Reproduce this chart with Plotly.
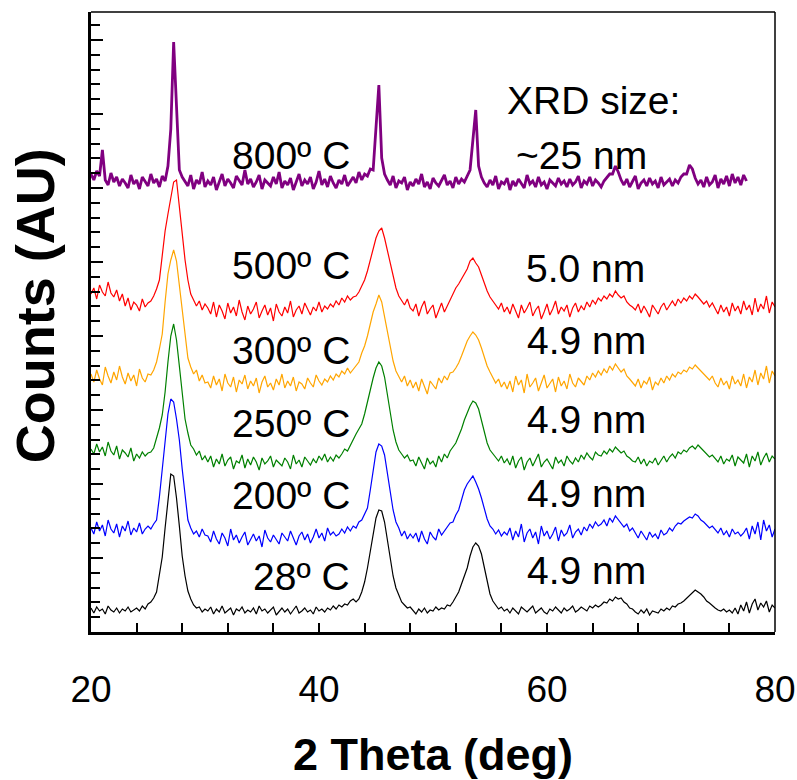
import numpy as np
import plotly.graph_objects as go

# ---------------- data (counts in arbitrary units, stacked offsets included) ----------------
# instrument sampling grid: 20.00 ... 80.00 deg in 0.25 deg steps
two_theta = np.round(np.arange(20.0, 80.0001, 0.25), 2)
two_theta_800 = two_theta[:231]          # 800 C scan stops at 77.5 deg

counts_28C = (
    [24, 19, 25, 21, 23, 18, 26, 22, 20, 24, 19, 23, 21, 25, 20, 22, 24, 21, 26, 23, 28]
    + [30, 34, 40, 58, 75, 104, 131, 158, 156, 134, 106, 76, 56, 41, 33, 27, 24, 25, 20, 23]
    + [21, 25, 18, 23, 20, 26, 19, 22, 24, 17, 23, 21, 25, 19, 22, 20, 24, 18, 26, 21,
       23, 19, 22, 25, 17, 21, 24, 20, 23, 18, 22, 26, 19, 21, 24, 20, 22, 18, 25, 21,
       23, 20, 24, 22, 26, 23, 27, 25, 28, 27, 31, 33]
    + [30, 33, 40, 50, 64, 80, 98, 114, 122, 121, 110, 92, 74, 56, 44, 36, 30, 27, 24, 25]
    + [21, 18, 23, 20, 24, 19, 22, 21, 25, 22, 24, 23, 27, 26]
    + [30, 35, 40, 48, 56, 64, 76, 85, 89, 86, 78, 64, 50, 38, 31, 27, 23, 25, 21]
    + [23, 19, 24, 21, 18, 25, 22, 20, 23, 26, 19, 22, 24, 20, 18, 23, 21, 25, 22, 19,
       24, 21, 23, 26, 20, 22, 25, 23, 21, 26, 24, 27, 25]
    + [27, 30, 29, 33, 31, 35, 33, 34, 30, 28, 24, 23]
    + [20, 18, 22, 19, 23, 17, 21, 20, 19, 23, 21, 24, 22, 26, 25, 28]
    + [29, 31, 34, 37, 39, 42, 40, 38, 35, 31, 29, 26]
    + [24, 22, 21, 23, 20, 22, 19, 24, 18, 27, 21, 30, 19, 28, 33, 22, 29, 25, 31, 20, 27, 24]
)

counts_200C = (
    [104, 98, 110, 101, 107, 96, 112, 103, 99, 108, 95, 106, 101, 111, 97, 104, 100, 109, 98, 103, 106]
    + [103, 108, 112, 135, 163, 195, 218, 233, 230, 213, 192, 163, 134, 112, 104, 98, 101, 95, 103, 97]
    + [96, 90, 101, 93, 88, 99, 94, 86, 103, 92, 97, 89, 95, 100, 87, 93, 98, 91, 96, 85,
       102, 94, 90, 97, 92, 88, 99, 95, 91, 101, 93, 87, 96, 100, 92, 98, 89, 95, 103, 94,
       99, 91, 104, 97, 100, 96, 98, 103, 99, 105, 101, 106]
    + [104, 110, 112, 118, 124, 142, 162, 180, 188, 186, 177, 160, 141, 122, 110, 104, 96, 101, 93, 98]
    + [94, 99, 90, 101, 93, 88, 100, 95, 92, 103, 97, 101, 105, 109]
    + [110, 117, 122, 133, 142, 148, 152, 156, 150, 143, 134, 122, 113, 106, 103, 98, 102, 96, 100]
    + [97, 104, 92, 101, 95, 108, 90, 99, 103, 94, 100, 88, 106, 96, 101, 93, 98, 105, 91, 102,
       96, 99, 107, 94, 100, 103, 97, 105, 101, 108, 104, 110, 106]
    + [108, 112, 106, 114, 110, 116, 112, 109, 105, 108, 101, 104]
    + [99, 94, 101, 96, 92, 100, 95, 98, 93, 102, 97, 99, 104, 101, 106, 109]
    + [108, 111, 113, 115, 114, 118, 116, 112, 110, 107, 104, 106]
    + [102, 99, 104, 97, 101, 95, 103, 98, 100, 96, 99, 104, 93, 106, 98, 110, 92, 112, 101, 107, 95, 103]
)

counts_250C = (
    [183, 178, 188, 180, 185, 176, 190, 181, 177, 186, 173, 182, 179, 175, 184, 171, 178, 174, 180, 176, 179]
    + [180, 184, 193, 204, 217, 240, 270, 296, 308, 292, 266, 238, 213, 199, 187, 183, 177, 181, 172, 176]
    + [170, 176, 165, 173, 168, 178, 166, 172, 175, 163, 171, 169, 177, 164, 173, 167, 175, 170, 162, 174,
       168, 171, 176, 165, 172, 169, 166, 174, 170, 163, 177, 168, 172, 165, 175, 171, 167, 173, 169, 176,
       172, 178, 170, 175, 171, 177, 174, 178, 183, 181, 187, 192]
    + [198, 203, 208, 218, 229, 242, 254, 264, 270, 266, 255, 237, 219, 202, 190, 182, 178, 174, 177, 171]
    + [172, 166, 175, 169, 163, 174, 168, 171, 165, 176, 170, 178, 174, 181]
    + [185, 189, 196, 203, 212, 220, 226, 231, 229, 223, 212, 199, 189, 182, 178, 175, 171, 176, 169]
    + [173, 167, 176, 164, 171, 175, 162, 170, 174, 166, 172, 178, 165, 170, 173, 168, 163, 175, 169, 172,
       166, 176, 171, 168, 174, 170, 177, 173, 179, 175, 172, 180, 177]
    + [176, 181, 178, 183, 180, 185, 182, 179, 181, 176, 174, 171]
    + [170, 175, 168, 173, 166, 171, 169, 174, 167, 172, 176, 170, 175, 178, 174, 180]
    + [178, 182, 180, 184, 186, 183, 187, 184, 181, 178, 175, 177]
    + [174, 170, 176, 168, 173, 171, 177, 166, 175, 172, 169, 178, 165, 176, 171, 180, 167, 174, 179, 170, 176, 173]
)

counts_300C = (
    [258, 250, 262, 253, 247, 265, 256, 249, 260, 252, 266, 255, 248, 259, 251, 257, 246, 263, 254, 250, 258]
    + [257, 262, 270, 283, 298, 330, 358, 372, 382, 371, 346, 318, 293, 274, 265, 258, 262, 251, 257, 249]
    + [250, 244, 256, 247, 253, 241, 258, 249, 245, 255, 240, 252, 248, 257, 243, 251, 246, 254, 239, 250,
       256, 245, 249, 242, 253, 247, 258, 244, 251, 246, 255, 241, 250, 248, 243, 254, 249, 245, 257, 251,
       247, 253, 250, 256, 252, 258, 255, 261, 258, 264, 259, 263]
    + [266, 270, 279, 286, 296, 308, 320, 328, 337, 330, 316, 301, 285, 271, 261, 256, 250, 256, 246, 252]
    + [244, 250, 241, 253, 246, 238, 251, 247, 243, 254, 249, 256, 252, 259]
    + [260, 264, 269, 276, 284, 291, 296, 300, 297, 292, 284, 274, 266, 260, 254, 249, 253, 245, 250]
    + [243, 251, 240, 256, 247, 252, 239, 258, 245, 249, 254, 241, 250, 257, 244, 248, 253, 240, 255, 246,
       251, 243, 258, 249, 245, 254, 250, 247, 256, 252, 259, 255, 261]
    + [257, 263, 259, 266, 262, 268, 264, 260, 263, 256, 253, 250]
    + [246, 253, 244, 251, 248, 255, 242, 250, 247, 254, 249, 256, 252, 258, 255, 260]
    + [258, 262, 260, 265, 263, 267, 264, 261, 258, 255, 252, 256]
    + [249, 245, 254, 247, 251, 243, 256, 248, 252, 246, 258, 244, 255, 250, 262, 247, 259, 253, 266, 249, 261, 256]
)

counts_500C = (
    [338, 344, 333, 347, 340, 336, 350, 339, 335, 342, 331, 338, 326, 334, 322, 330, 327, 321, 333, 325, 329]
    + [331, 336, 343, 352, 378, 401, 418, 433, 450, 452, 423, 398, 372, 352, 338, 332, 326, 331, 322, 328]
    + [324, 318, 330, 315, 327, 321, 313, 329, 319, 325, 316, 332, 320, 312, 326, 318, 323, 330, 314, 321,
       327, 317, 324, 311, 328, 320, 316, 325, 319, 331, 315, 322, 326, 318, 329, 323, 317, 325, 321, 330,
       320, 326, 323, 328, 325, 331, 327, 334, 330, 336, 332, 335]
    + [336, 340, 346, 352, 361, 373, 385, 394, 401, 404, 394, 382, 369, 356, 344, 336, 331, 327, 333, 324]
    + [321, 328, 316, 325, 331, 318, 323, 327, 314, 322, 329, 320, 326, 333]
    + [338, 344, 348, 353, 358, 363, 371, 374, 369, 365, 357, 348, 341, 335, 331, 328, 323, 329, 320]
    + [325, 318, 328, 321, 314, 327, 319, 324, 330, 316, 322, 326, 313, 320, 328, 317, 323, 331, 318, 325,
       321, 327, 315, 324, 329, 320, 326, 322, 330, 325, 332, 328, 334]
    + [331, 336, 333, 338, 335, 341, 337, 334, 336, 330, 327, 325]
    + [322, 328, 319, 326, 321, 315, 327, 323, 318, 325, 329, 322, 327, 331, 326, 333]
    + [329, 334, 331, 336, 333, 338, 335, 332, 328, 331, 325, 329]
    + [323, 318, 327, 320, 325, 316, 329, 321, 326, 318, 331, 322, 327, 317, 334, 320, 328, 323, 336, 319, 330, 325]
)

counts_800C = (
    [458, 452, 461, 456, 482, 452, 447, 459, 450, 455, 446, 453, 449, 444, 457, 448, 452, 443, 455, 450,
     446, 458, 449, 453, 445, 456, 451]
    + [466, 503, 590, 524, 462, 455]
    + [450, 446, 457, 443, 452, 448, 460, 445, 451, 447, 455, 442, 450, 458, 446, 453, 449, 444, 456, 451,
       447, 462, 448, 453, 445, 450, 457, 443, 452, 449, 446, 455, 448, 460, 444, 451, 447, 454, 442, 450,
       458, 446, 452, 448, 455, 443, 450, 461, 447, 453, 445, 456, 449, 444, 452, 448, 457, 446, 451, 455,
       449, 460, 452, 458, 456, 463]
    + [462, 506, 547, 474, 458]
    + [452, 447, 456, 444, 451, 449, 455, 442, 450, 446, 453, 448, 458, 445, 450, 443, 454, 449, 446, 452,
       457, 447, 451, 444, 455, 448, 453, 450, 456, 462]
    + [492, 522, 466, 455]
    + [449, 445, 452, 447, 456, 443, 450, 448, 454, 442, 451, 446, 453, 449, 444, 457, 448, 451, 445, 455,
       447, 450, 443, 452, 449, 446, 454, 448, 451, 445, 453, 447, 450, 456, 444, 451, 448, 455, 446, 452,
       449, 445, 451, 454, 458]
    + [458, 466, 460, 452]
    + [447, 453, 445, 450, 456, 443, 449, 452, 446, 454, 448, 451, 444, 455, 447, 450, 453, 446, 452, 449,
       455, 458]
    + [458, 467, 463, 454]
    + [448, 452, 445, 455, 447, 450, 457, 444, 453, 448, 456, 446, 458, 449, 455, 447, 457, 451]
)

temperature_labels = ["800º C", "500º C", "300º C", "250º C", "200º C", "28º C"]
size_labels = ["~25 nm", "5.0 nm", "4.9 nm", "4.9 nm", "4.9 nm", "4.9 nm"]
size_header = "XRD size:"
line_colors = ["#800080", "#ff0000", "#ffa500", "#008000", "#0000ff", "#000000"]

x_tick_values = list(range(20, 81, 4))
x_tick_text = [str(v) if v in (20, 40, 60, 80) else "" for v in x_tick_values]

for name, arr in [("28", counts_28C), ("200", counts_200C), ("250", counts_250C),
                  ("300", counts_300C), ("500", counts_500C)]:
    assert len(arr) == len(two_theta), (name, len(arr))
assert len(counts_800C) == len(two_theta_800), len(counts_800C)

# ---------------- figure ----------------
FONT = "Liberation Sans, Arial, Helvetica, sans-serif"
fig = go.Figure()

series = [
    (two_theta_800, counts_800C, 2.8),
    (two_theta, counts_500C, 1.2),
    (two_theta, counts_300C, 1.2),
    (two_theta, counts_250C, 1.2),
    (two_theta, counts_200C, 1.2),
    (two_theta, counts_28C, 1.2),
]
for (xs, ys, w), col, lab in zip(series, line_colors, temperature_labels):
    fig.add_trace(go.Scatter(x=xs, y=ys, mode="lines", name=lab,
                             line=dict(color=col, width=w), showlegend=False))

# label positions (data coordinates)
temp_pos = [(37.5, 477), (37.5, 367), (37.5, 282), (37.5, 209), (37.5, 137), (38.5, 56)]
size_pos = [(63.0, 477), (63.4, 364), (63.5, 292), (63.5, 213), (63.5, 139), (63.5, 62)]
header_pos = (64.1, 532)
LABEL_SIZE = 39

annos = []
for t, (x, y) in zip(temperature_labels, temp_pos):
    annos.append(dict(x=x, y=y, text=t, showarrow=False, xanchor="center", yanchor="middle",
                      font=dict(family=FONT, size=LABEL_SIZE, color="black")))
for t, (x, y) in zip(size_labels, size_pos):
    annos.append(dict(x=x, y=y, text=t, showarrow=False, xanchor="center", yanchor="middle",
                      font=dict(family=FONT, size=LABEL_SIZE, color="black")))
annos.append(dict(x=header_pos[0], y=header_pos[1], text=size_header, showarrow=False,
                  xanchor="center", yanchor="middle",
                  font=dict(family=FONT, size=LABEL_SIZE, color="black")))
# y-axis title (placed slightly above the plot centre, as in the original)
annos.append(dict(x=-0.082, y=0.527, xref="paper", yref="paper", text="<b>Counts (AU)</b>",
                  textangle=-90, showarrow=False, xanchor="center", yanchor="middle",
                  font=dict(family=FONT, size=54, color="black")))

fig.update_layout(
    width=797, height=780,
    margin=dict(l=91, r=22, t=12, b=148),
    paper_bgcolor="white", plot_bgcolor="white",
    font=dict(family=FONT, color="black"),
    annotations=annos,
    shapes=[
        dict(type="line", xref="paper", yref="paper", x0=0, x1=1, y0=1, y1=1,
             line=dict(color="black", width=1.5)),
        dict(type="line", xref="paper", yref="paper", x0=1, x1=1, y0=0, y1=1,
             line=dict(color="black", width=1.5)),
    ],
    xaxis=dict(
        range=[20, 80], showgrid=False, zeroline=False,
        showline=True, linecolor="black", linewidth=2.5, mirror=False,
        tickmode="array", tickvals=x_tick_values, ticktext=x_tick_text,
        ticks="inside", ticklen=9, tickwidth=1.5, tickcolor="black",
        tickfont=dict(family=FONT, size=37, color="black"),
        ticklabelstandoff=23,
        title=dict(text="<b>2 Theta (deg)</b>", font=dict(family=FONT, size=45, color="black"),
                   standoff=30),
        automargin=False,
    ),
    yaxis=dict(
        range=[0, 620], showgrid=False, zeroline=False,
        showline=True, linecolor="black", linewidth=2.5, mirror=False,
        tick0=0, dtick=74, ticks="inside", ticklen=12, tickwidth=1.5, tickcolor="black",
        showticklabels=False,
        minor=dict(dtick=14.8, tick0=0, ticks="inside", ticklen=9, tickwidth=1.5,
                   tickcolor="black", showgrid=False),
        automargin=False,
    ),
)

fig.write_html("out.html")
